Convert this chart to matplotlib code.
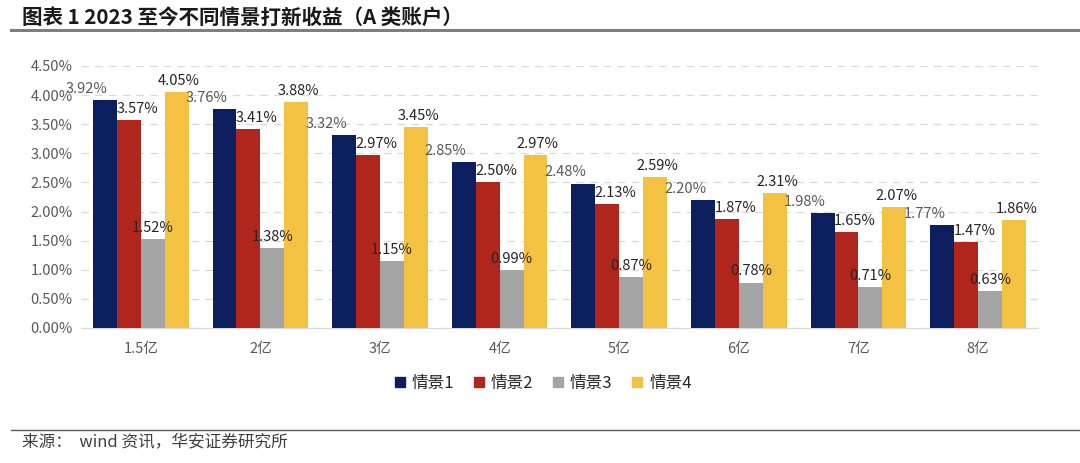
import matplotlib
matplotlib.use("Agg")
import matplotlib.pyplot as plt
import numpy as np

plt.rcParams['font.family'] = ['Noto Sans CJK SC', 'DejaVu Sans']

categories = ["1.5亿", "2亿", "3亿", "4亿", "5亿", "6亿", "7亿", "8亿"]
series_names = ["情景1", "情景2", "情景3", "情景4"]
s1 = [3.92, 3.76, 3.32, 2.85, 2.48, 2.20, 1.98, 1.77]
s2 = [3.57, 3.41, 2.97, 2.50, 2.13, 1.87, 1.65, 1.47]
s3 = [1.52, 1.38, 1.15, 0.99, 0.87, 0.78, 0.71, 0.63]
s4 = [4.05, 3.88, 3.45, 2.97, 2.59, 2.31, 2.07, 1.86]
yticks = [0.0, 0.5, 1.0, 1.5, 2.0, 2.5, 3.0, 3.5, 4.0, 4.5]

colors = ["#0C1F5E", "#B0261C", "#A5A5A5", "#F3C242"]
label_colors = ["#595959", "#262626", "#262626", "#262626"]
label_dx = [-0.15, 0.07, 0.0, 0.02]

fig = plt.figure(figsize=(10.8, 4.63), dpi=100)
ax = fig.add_axes([0.075, 0.2916, 0.886, 0.566])

x = np.arange(len(categories))
w = 0.2
data = [s1, s2, s3, s4]
for i, (vals, c) in enumerate(zip(data, colors)):
    pos = x + (i - 1.5) * w
    ax.bar(pos, vals, width=w, color=c, zorder=3)
    for p, v in zip(pos, vals):
        ax.text(p + label_dx[i], v + 0.07, f"{v:.2f}%", ha="center", va="bottom",
                fontsize=10.5, color=label_colors[i], zorder=4)

ax.set_xlim(-0.5, len(categories) - 0.5)
ax.set_ylim(0, 4.5)
ax.set_yticks(yticks)
ax.set_yticklabels([f"{t:.2f}%" for t in yticks], fontsize=10.5, color="#595959")
ax.set_xticks(x)
ax.set_xticklabels(categories, fontsize=10.5, color="#595959")
ax.tick_params(axis="y", length=0, pad=6)
ax.tick_params(axis="x", length=0, pad=10)
ax.yaxis.grid(True, linestyle=(0, (6, 5)), color="#D9D9D9", linewidth=0.9, zorder=0)
for s in ["top", "right", "left"]:
    ax.spines[s].set_visible(False)
ax.spines["bottom"].set_color("#D9D9D9")

handles = [plt.Rectangle((0, 0), 1, 1, color=c) for c in colors]
fig.legend(handles, series_names, loc="center", bbox_to_anchor=(0.503, 0.172), ncol=4,
           frameon=False, fontsize=12, handlelength=0.6, handleheight=0.6,
           handletextpad=0.4, columnspacing=1.2, labelcolor="#262626")

fig.text(0.02, 0.963, "图表 1 2023 至今不同情景打新收益（A 类账户）", fontsize=14.8,
         fontweight="bold", color="#1a1a1a", va="center", ha="left")
fig.add_artist(plt.Line2D([0.01, 1.0], [0.935, 0.935], color="#7F7F7F", linewidth=2.2))
fig.add_artist(plt.Line2D([0.01, 1.0], [0.071, 0.071], color="#595959", linewidth=1.0))
fig.text(0.02, 0.045, "来源：  wind 资讯，华安证券研究所", fontsize=12, color="#404040",
         va="center", ha="left")

fig.savefig("out.png", dpi=100)
